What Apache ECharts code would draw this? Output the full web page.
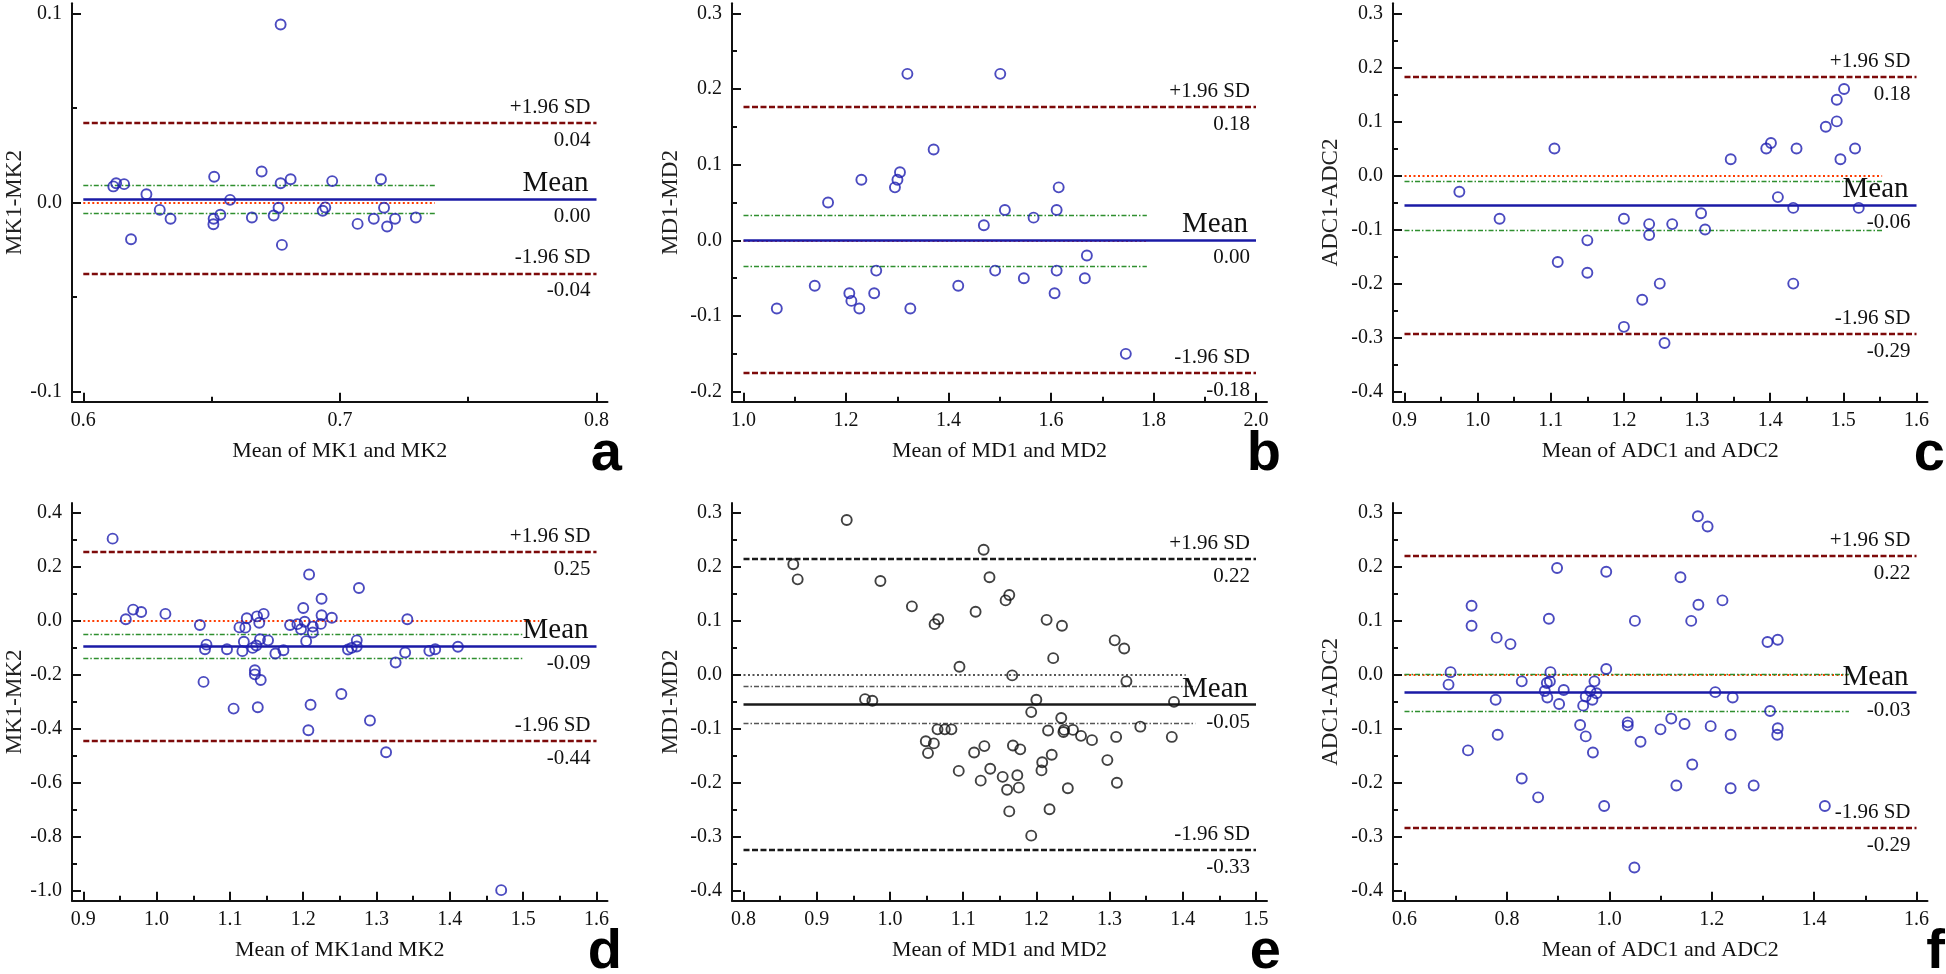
<!DOCTYPE html>
<html><head><meta charset="utf-8">
<script src="https://cdn.jsdelivr.net/npm/echarts@6/dist/echarts.min.js"></script>
<style>html,body{margin:0;padding:0;background:#fff}#c{width:1946px;height:974px}</style>
</head><body><div id="c"></div>
<script>
// ---------- Panel a ----------
const aX = [0.6117,0.6128,0.6159,0.6186,0.6246,0.6298,0.634,0.651,0.6508,0.6507,0.6534,0.6572,0.6657,0.6695,0.6742,0.6769,0.6769,0.6761,0.6774,0.6808,0.6933,0.6943,0.697,0.7069,0.7132,0.716,0.7172,0.7184,0.7215,0.7296];
const aY = [0.0085,0.0102,0.0097,-0.0194,0.0044,-0.0039,-0.0086,0.0136,-0.0086,-0.0115,-0.0065,0.0014,-0.0079,0.0164,-0.0069,0.0941,0.0102,-0.0028,-0.0224,0.0123,-0.0044,-0.0026,0.0113,-0.0113,-0.0086,0.0123,-0.0028,-0.0127,-0.0086,-0.0079];
const aLines = [0.042, 0.0017, -0.0374, 0.0093, -0.0059];   // +1.96SD, mean, -1.96SD, CI high, CI low
const aLineLabels = ['0.04', '0.00', '-0.04'];
const aShortEnd = [0.737, 0.737];                          // end of zero line, end of CI lines
const aXTicks = [0.6, 0.7, 0.8], aXMinor = [0.65, 0.75];
const aYTicks = [-0.1, 0, 0.1], aYMinor = [-0.05, 0.05];
const aXTitle = 'Mean of MK1 and MK2', aYTitle = 'MK1-MK2';

// ---------- Panel b ----------
const bX = [1.065,1.139,1.165,1.2065,1.2105,1.226,1.23,1.255,1.259,1.2955,1.3004,1.3053,1.3198,1.3255,1.371,1.419,1.469,1.491,1.501,1.510,1.547,1.566,1.607,1.611,1.611,1.615,1.666,1.670,1.746];
const bY = [-0.09,-0.06,0.05,-0.07,-0.08,-0.09,0.08,-0.07,-0.04,0.07,0.08,0.09,0.22,-0.09,0.12,-0.06,0.02,-0.04,0.22,0.04,-0.05,0.03,-0.07,0.04,-0.04,0.07,-0.05,-0.02,-0.15];
const bLines = [0.176, 0.0, -0.175, 0.0335, -0.0344];
const bLineLabels = ['0.18', '0.00', '-0.18'];
const bShortEnd = [1.787, 1.787];
const bXTicks = [1.0, 1.2, 1.4, 1.6, 1.8, 2.0], bXMinor = [1.1, 1.3, 1.5, 1.7, 1.9];
const bYTicks = [-0.2, -0.1, 0, 0.1, 0.2, 0.3], bYMinor = [-0.15, -0.05, 0.05, 0.15, 0.25];
const bXTitle = 'Mean of MD1 and MD2', bYTitle = 'MD1-MD2';

// ---------- Panel c ----------
const cX = [0.975,1.030,1.105,1.1095,1.150,1.150,1.200,1.200,1.225,1.2345,1.2345,1.249,1.2555,1.266,1.3055,1.311,1.346,1.3946,1.401,1.4105,1.4315,1.4315,1.436,1.476,1.491,1.491,1.496,1.501,1.516,1.521];
const cY = [-0.03,-0.08,0.05,-0.16,-0.12,-0.18,-0.08,-0.28,-0.23,-0.09,-0.11,-0.20,-0.31,-0.09,-0.07,-0.10,0.03,0.05,0.06,-0.04,-0.06,-0.20,0.05,0.09,0.14,0.10,0.03,0.16,0.05,-0.06];
const cLines = [0.1826, -0.0549, -0.2936, -0.0111, -0.1012];
const cLineLabels = ['0.18', '-0.06', '-0.29'];
const cShortEnd = [1.553, 1.553];
const cXTicks = [0.9, 1.0, 1.1, 1.2, 1.3, 1.4, 1.5, 1.6], cXMinor = [0.95, 1.05, 1.15, 1.25, 1.35, 1.45, 1.55];
const cYTicks = [-0.4, -0.3, -0.2, -0.1, 0, 0.1, 0.2, 0.3], cYMinor = [-0.35, -0.25, -0.15, -0.05, 0.05, 0.15, 0.25];
const cXTitle = 'Mean of ADC1 and ADC2', cYTitle = 'ADC1-ADC2';

// ---------- Panel d ----------
const dX = [0.940,0.958,0.968,0.979,1.012,1.059,1.064,1.066,1.068,1.096,1.105,1.113,1.117,1.119,1.121,1.123,1.131,1.134,1.134,1.136,1.137,1.138,1.140,1.141,1.142,1.146,1.152,1.162,1.173,1.182,1.192,1.197,1.200,1.202,1.204,1.207,1.208,1.210,1.213,1.213,1.224,1.225,1.225,1.239,1.252,1.261,1.266,1.273,1.273,1.276,1.291,1.313,1.326,1.339,1.342,1.372,1.380,1.411,1.470];
const dY = [0.305,0.006,0.042,0.033,0.026,-0.015,-0.226,-0.105,-0.088,-0.105,-0.325,-0.024,-0.112,-0.077,-0.025,0.010,-0.100,-0.183,-0.198,-0.091,0.017,-0.320,-0.007,-0.068,-0.219,0.026,-0.072,-0.121,-0.109,-0.015,-0.012,-0.031,0.048,-0.003,-0.075,-0.405,0.172,-0.311,-0.021,-0.043,-0.011,0.082,0.021,0.012,-0.271,-0.106,-0.100,-0.072,-0.095,0.122,-0.369,-0.487,-0.154,-0.117,0.006,-0.111,-0.105,-0.096,-0.998];
const dLines = [0.2557, -0.0939, -0.4435, -0.0506, -0.1396];
const dLineLabels = ['0.25', '-0.09', '-0.44'];
const dShortEnd = [1.522, 1.501];
const dXTicks = [0.9, 1.0, 1.1, 1.2, 1.3, 1.4, 1.5, 1.6], dXMinor = [0.95, 1.05, 1.15, 1.25, 1.35, 1.45, 1.55];
const dYTicks = [-1.0, -0.8, -0.6, -0.4, -0.2, 0, 0.2, 0.4], dYMinor = [-0.9, -0.7, -0.5, -0.3, -0.1, 0.1, 0.3];
const dXTitle = 'Mean of MK1and MK2', dYTitle = 'MK1-MK2';

// ---------- Panel e ----------
const eX = [0.868,0.874,0.941,0.966,0.976,0.987,1.030,1.049,1.052,1.060,1.061,1.066,1.065,1.075,1.084,1.094,1.095,1.115,1.117,1.124,1.128,1.129,1.136,1.137,1.154,1.158,1.160,1.163,1.163,1.167,1.168,1.174,1.176,1.178,1.193,1.193,1.200,1.207,1.208,1.214,1.216,1.218,1.221,1.223,1.234,1.235,1.237,1.238,1.243,1.250,1.261,1.276,1.297,1.307,1.309,1.310,1.320,1.323,1.342,1.385,1.388];
const eY = [0.205,0.177,0.287,-0.045,-0.048,0.174,0.127,-0.123,-0.145,-0.127,0.094,0.103,-0.101,-0.101,-0.101,-0.178,0.015,-0.144,0.117,-0.196,0.232,-0.132,0.181,-0.174,-0.189,0.138,-0.213,0.148,-0.253,-0.001,-0.131,-0.186,-0.209,-0.138,-0.069,-0.298,-0.046,-0.177,-0.162,0.102,-0.103,-0.249,-0.148,0.031,-0.080,0.091,-0.106,-0.102,-0.210,-0.102,-0.113,-0.121,-0.158,0.064,-0.115,-0.200,0.049,-0.012,-0.096,-0.115,-0.050];
const eLines = [0.2154, -0.0549, -0.3247, -0.021, -0.0901];
const eLineLabels = ['0.22', '-0.05', '-0.33'];
const eShortEnd = [1.404, 1.417];
const eXTicks = [0.8, 0.9, 1.0, 1.1, 1.2, 1.3, 1.4, 1.5], eXMinor = [0.85, 0.95, 1.05, 1.15, 1.25, 1.35, 1.45];
const eYTicks = [-0.4, -0.3, -0.2, -0.1, 0, 0.1, 0.2, 0.3], eYMinor = [-0.35, -0.25, -0.15, -0.05, 0.05, 0.15, 0.25];
const eXTitle = 'Mean of MD1 and MD2', eYTitle = 'MD1-MD2';

// ---------- Panel f ----------
const fX = [0.686,0.690,0.724,0.731,0.731,0.778,0.780,0.782,0.807,0.829,0.829,0.861,0.874,0.878,0.879,0.882,0.884,0.885,0.898,0.902,0.911,0.943,0.949,0.954,0.954,0.963,0.967,0.968,0.971,0.975,0.990,0.994,0.994,1.036,1.036,1.050,1.049,1.061,1.100,1.121,1.131,1.139,1.147,1.160,1.162,1.173,1.174,1.192,1.198,1.207,1.221,1.237,1.237,1.241,1.282,1.309,1.314,1.328,1.329,1.329,1.421];
const fY = [-0.018,0.005,-0.140,0.128,0.091,-0.046,0.069,-0.111,0.057,-0.012,-0.192,-0.227,-0.030,-0.015,-0.042,0.104,-0.012,0.005,0.198,-0.054,-0.028,-0.093,-0.057,-0.114,-0.040,-0.030,-0.046,-0.144,-0.012,-0.034,-0.243,0.191,0.011,-0.088,-0.094,0.100,-0.357,-0.124,-0.101,-0.081,-0.205,0.181,-0.091,0.100,-0.166,0.294,0.130,0.275,-0.095,-0.032,0.138,-0.210,-0.111,-0.042,-0.205,0.061,-0.067,-0.111,0.065,-0.099,-0.243];
const fLines = [0.221, -0.0327, -0.284, 0.001, -0.0667];
const fLineLabels = ['0.22', '-0.03', '-0.29'];
const fShortEnd = [1.468, 1.468];
const fXTicks = [0.6, 0.8, 1.0, 1.2, 1.4, 1.6], fXMinor = [0.7, 0.9, 1.1, 1.3, 1.5];
const fYTicks = [-0.4, -0.3, -0.2, -0.1, 0, 0.1, 0.2, 0.3], fYMinor = [-0.35, -0.25, -0.15, -0.05, 0.05, 0.15, 0.25];
const fXTitle = 'Mean of ADC1 and ADC2', fYTitle = 'ADC1-ADC2';

// ---------- layout & style ----------
const SERIF = '"Liberation Serif", "Times New Roman", serif';
const INK = '#111';
const COLS = [{axis: 72, x0: 83.3, x1: 596.5}, {axis: 732, x0: 743.5, x1: 1256}, {axis: 1393, x0: 1404.5, x1: 1916.5}];
const ROWS = [{top: 13.3, bot: 391.7}, {top: 513, bot: 890.7}];
const PAD_R = 11, PAD_T = 10, PAD_B = 10;
const YNAME_GAP = [46, 50, 51];
const LETTER_X = [622, 1281, 1945];
const LETTER_Y = [455, 953];
const THEMES = {
  color: {pt: '#1e1eb0', sd: '#7d0a0a', mean: '#1a1aa6', ci: '#2f8f2f', zero: '#ff3c00'},
  mono:  {pt: '#111111', sd: '#1a1a1a', mean: '#1a1a1a', ci: '#555555', zero: '#555555'}
};

const panels = [
  {x: aX, y: aY, lines: aLines, lab: aLineLabels, ends: aShortEnd, xt: aXTicks, xm: aXMinor, yt: aYTicks, ym: aYMinor, xn: aXTitle, yn: aYTitle, letter: 'a', col: 0, row: 0, th: 'color'},
  {x: bX, y: bY, lines: bLines, lab: bLineLabels, ends: bShortEnd, xt: bXTicks, xm: bXMinor, yt: bYTicks, ym: bYMinor, xn: bXTitle, yn: bYTitle, letter: 'b', col: 1, row: 0, th: 'color'},
  {x: cX, y: cY, lines: cLines, lab: cLineLabels, ends: cShortEnd, xt: cXTicks, xm: cXMinor, yt: cYTicks, ym: cYMinor, xn: cXTitle, yn: cYTitle, letter: 'c', col: 2, row: 0, th: 'color'},
  {x: dX, y: dY, lines: dLines, lab: dLineLabels, ends: dShortEnd, xt: dXTicks, xm: dXMinor, yt: dYTicks, ym: dYMinor, xn: dXTitle, yn: dYTitle, letter: 'd', col: 0, row: 1, th: 'color'},
  {x: eX, y: eY, lines: eLines, lab: eLineLabels, ends: eShortEnd, xt: eXTicks, xm: eXMinor, yt: eYTicks, ym: eYMinor, xn: eXTitle, yn: eYTitle, letter: 'e', col: 1, row: 1, th: 'mono'},
  {x: fX, y: fY, lines: fLines, lab: fLineLabels, ends: fShortEnd, xt: fXTicks, xm: fXMinor, yt: fYTicks, ym: fYMinor, xn: fXTitle, yn: fYTitle, letter: 'f', col: 2, row: 1, th: 'color'}
];

const fmt1 = v => (Math.abs(v) < 1e-9 ? 0 : v).toFixed(1);

const option = {animation: false, backgroundColor: '#fff', grid: [], xAxis: [], yAxis: [], series: [], graphic: []};

panels.forEach((p, i) => {
  const c = COLS[p.col], r = ROWS[p.row], T = THEMES[p.th];
  const xa = p.xt[0], xb = p.xt[p.xt.length - 1];
  const xr = (xb - xa) / (c.x1 - c.x0);
  const xmin = xa - (c.x0 - c.axis) * xr, xmax = xb + PAD_R * xr;
  const ya = p.yt[0], yb = p.yt[p.yt.length - 1];
  const yr = (yb - ya) / (r.bot - r.top);
  const ymin = ya - PAD_B * yr, ymax = yb + PAD_T * yr;

  option.grid.push({left: c.axis, top: r.top - PAD_T, width: c.x1 + PAD_R - c.axis,
    height: r.bot + PAD_B - (r.top - PAD_T), containLabel: false, outerBoundsMode: 'none'});

  const tickStyle = {color: INK, width: 2};
  option.xAxis.push({
    gridIndex: i, type: 'value', min: xmin, max: xmax, position: 'bottom',
    axisLine: {show: true, onZero: false, lineStyle: {color: INK, width: 2}},
    axisTick: {show: true, inside: true, length: 9, customValues: p.xt, lineStyle: tickStyle},
    axisLabel: {show: true, customValues: p.xt, formatter: fmt1, margin: 9, fontSize: 20, fontFamily: SERIF, color: INK},
    splitLine: {show: false},
    name: p.xn, nameLocation: 'middle', nameGap: 39,
    nameTextStyle: {fontSize: 22, fontFamily: SERIF, color: INK}
  });
  option.xAxis.push({
    gridIndex: i, type: 'value', min: xmin, max: xmax, position: 'bottom',
    axisLine: {show: false, onZero: false},
    axisTick: {show: true, inside: true, length: 5, customValues: p.xm, lineStyle: tickStyle},
    axisLabel: {show: false}, splitLine: {show: false}
  });
  option.yAxis.push({
    gridIndex: i, type: 'value', min: ymin, max: ymax, position: 'left',
    axisLine: {show: true, onZero: false, lineStyle: {color: INK, width: 2}},
    axisTick: {show: true, inside: true, length: 9, customValues: p.yt, lineStyle: tickStyle},
    axisLabel: {show: true, customValues: p.yt, formatter: fmt1, margin: 10, fontSize: 20, fontFamily: SERIF, color: INK},
    splitLine: {show: false},
    name: p.yn, nameLocation: 'middle', nameGap: YNAME_GAP[p.col],
    nameTextStyle: {fontSize: 23, fontFamily: SERIF, color: '#222'}
  });
  option.yAxis.push({
    gridIndex: i, type: 'value', min: ymin, max: ymax, position: 'left',
    axisLine: {show: false, onZero: false},
    axisTick: {show: true, inside: true, length: 5, customValues: p.ym, lineStyle: tickStyle},
    axisLabel: {show: false}, splitLine: {show: false}
  });

  const [up, mean, lo, ciHi, ciLo] = p.lines;
  const x0 = xa, x1 = xb;
  const txt = (t, pos, size, dist) => ({show: true, position: pos, formatter: t, distance: dist,
    fontFamily: SERIF, fontSize: size, color: INK});
  const hidden = {color: 'rgba(0,0,0,0)', width: 0};
  const seg = (y, xe, style, label) => [
    {coord: [x0, y], lineStyle: style, label: label || {show: false}},
    {coord: [xe, y]}
  ];
  const sdStyle = {color: T.sd, type: [6, 2.5], width: 2.4};
  const ciStyle = {color: T.ci, type: [5, 2, 1.5, 2], width: 1.3};
  const markData = [
    seg(0, p.ends[0], {color: T.zero, type: [2, 2.5], width: 2}),
    seg(ciHi, p.ends[1], ciStyle),
    seg(ciLo, p.ends[1], ciStyle),
    seg(up, x1, sdStyle, txt('+1.96 SD', 'insideEndTop', 21, [6, 5])),
    seg(up, x1, hidden, txt(p.lab[0], 'insideEndBottom', 21, [6, 7])),
    seg(mean, x1, {color: T.mean, type: 'solid', width: 2.6}, txt('Mean', 'insideEndTop', 29, [8, 1])),
    seg(mean, x1, hidden, txt(p.lab[1], 'insideEndBottom', 21, [6, 7])),
    seg(lo, x1, sdStyle, txt('-1.96 SD', 'insideEndTop', 21, [6, 5])),
    seg(lo, x1, hidden, txt(p.lab[2], 'insideEndBottom', 21, [6, 7]))
  ];

  option.series.push({
    type: 'scatter', xAxisIndex: 2 * i, yAxisIndex: 2 * i,
    data: p.x.map((v, k) => [v, p.y[k]]),
    symbol: 'circle', symbolSize: 10,
    itemStyle: {color: 'rgba(0,0,0,0)', borderColor: T.pt, borderWidth: 1.9},
    silent: true, z: 3,
    markLine: {silent: true, symbol: ['none', 'none'], animation: false, data: markData, z: 2}
  });

  option.graphic.push({
    type: 'text', x: LETTER_X[p.col], y: LETTER_Y[p.row], silent: true,
    style: {text: p.letter, fontFamily: '"Liberation Sans", Arial, sans-serif', fontWeight: 'bold',
      fontSize: 56, fill: '#000', align: 'right', verticalAlign: 'middle'}
  });
});

const chart = echarts.init(document.getElementById('c'), null, {renderer: 'canvas'});
chart.setOption(option);
</script>
</body></html>
